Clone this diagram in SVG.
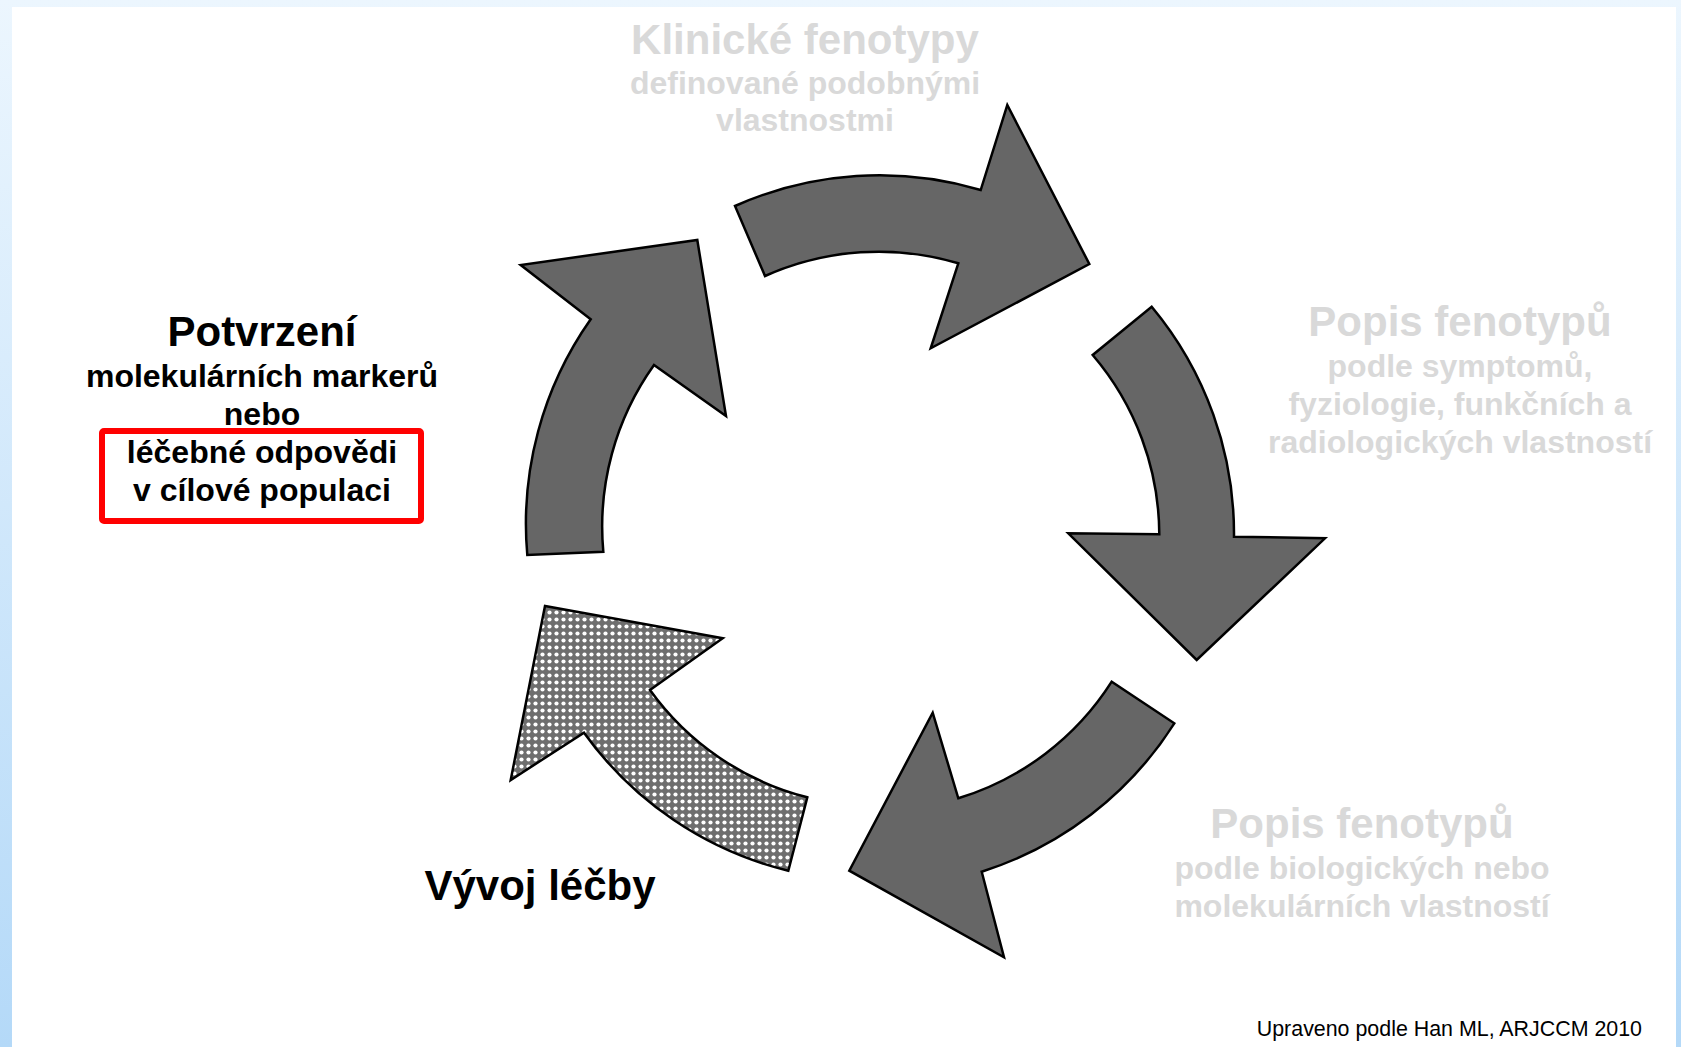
<svg xmlns="http://www.w3.org/2000/svg" width="1681" height="1047" viewBox="0 0 1681 1047">
<style>
  .t { font-family: "Liberation Sans", Arial, sans-serif; font-weight: bold; text-anchor: middle; }
  .g { fill: #d9d9d9; }
  .k { fill: #000000; }
  .h { font-size: 42px; }
  .s { font-size: 32px; }
  .arrow { fill: #666666; stroke: #000000; stroke-width: 2.5; stroke-linejoin: miter; }
  .hatched { fill: url(#dots); stroke: #000000; stroke-width: 2.5; stroke-linejoin: miter; }
</style>
<defs>
  <linearGradient id="bg" x1="0" y1="0" x2="0" y2="1">
    <stop offset="0" stop-color="#ecf6fe"/>
    <stop offset="1" stop-color="#b4d9f8"/>
  </linearGradient>
  <pattern id="dots" x="0" y="0" width="7" height="7" patternUnits="userSpaceOnUse">
    <rect width="7" height="7" fill="#6e6e6e"/>
    <circle cx="3.5" cy="3.5" r="2.1" fill="#ffffff"/>
  </pattern>
</defs>

<rect x="0" y="0" width="1681" height="1047" fill="url(#bg)"/>
<rect x="12" y="7" width="1664" height="1040" fill="#ffffff"/>

<g id="connectors">
  <path class="arrow" d="M735,206 A355,355 0 0 1 980.7,190 L1007.3,105 L1089.3,264 L930.7,348.3 L958.3,263.3 A278,278 0 0 0 765,276 Z"/>
  <path class="arrow" d="M1151.7,306.7 A355,355 0 0 1 1234,536.7 L1325,538.3 L1196.7,660 L1068.3,533.3 L1159.3,534.3 A278,278 0 0 0 1092.7,355 Z"/>
  <path class="arrow" d="M1174.3,723.3 A355,355 0 0 1 981.7,871.7 L1004,957.3 L849.3,870.7 L932.7,712.7 L958.3,798.3 A278,278 0 0 0 1111.7,681.7 Z"/>
  <path class="hatched" d="M788.3,870.7 A355,355 0 0 1 584,732.7 L510.7,780 L545,606 L722.7,638.3 L650,690 A278,278 0 0 0 807.3,797.3 Z"/>
  <path class="arrow" d="M527.3,555 A355,355 0 0 1 590.7,319.3 L520.7,265 L697.3,240 L726,416 L654,365 A278,278 0 0 0 603.3,551.7 Z"/>
</g>

<g id="node-klinicke">
  <text class="t g h" x="805" y="54">Klinické fenotypy</text>
  <text class="t g s" x="805" y="94">definované podobnými</text>
  <text class="t g s" x="805" y="131">vlastnostmi</text>
</g>

<g id="node-popis-symptomy">
  <text class="t g h" x="1460" y="336">Popis fenotypů</text>
  <text class="t g s" x="1460" y="377">podle symptomů,</text>
  <text class="t g s" x="1460" y="415">fyziologie, funkčních a</text>
  <text class="t g s" x="1460" y="453">radiologických vlastností</text>
</g>

<g id="node-popis-biologie">
  <text class="t g h" x="1362" y="838">Popis fenotypů</text>
  <text class="t g s" x="1362" y="879">podle biologických nebo</text>
  <text class="t g s" x="1362" y="917">molekulárních vlastností</text>
</g>

<g id="node-vyvoj">
  <text class="t k h" x="540" y="900">Vývoj léčby</text>
</g>

<g id="node-potvrzeni">
  <rect x="102" y="431" width="319" height="90" rx="2" fill="none" stroke="#ff0000" stroke-width="6"/>
  <text class="t k h" x="262" y="346">Potvrzení</text>
  <text class="t k s" x="262" y="387">molekulárních markerů</text>
  <text class="t k s" x="262" y="425">nebo</text>
  <text class="t k s" x="262" y="463">léčebné odpovědi</text>
  <text class="t k s" x="262" y="501">v cílové populaci</text>
</g>

<g id="source">
  <text x="1642" y="1036" font-family="Liberation Sans, Arial, sans-serif" font-size="21.4" text-anchor="end" fill="#000000">Upraveno podle Han ML, ARJCCM 2010</text>
</g>
</svg>
